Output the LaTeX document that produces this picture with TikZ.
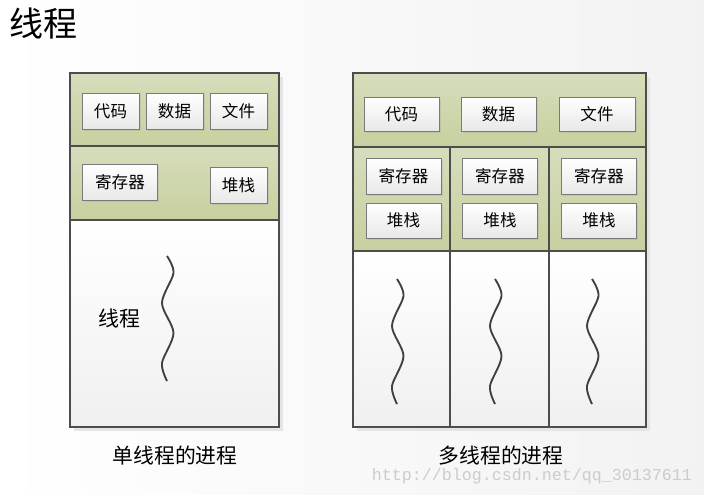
\documentclass[tikz,border=0pt]{standalone}
\usepackage{fontspec}
\setmonofont{Liberation Mono}
\newfontfamily\cjk{Noto Sans CJK SC}
\usetikzlibrary{shadows}
\definecolor{bandtop}{HTML}{D6DDBC}
\definecolor{bandbot}{HTML}{C7D09F}
\definecolor{framec}{HTML}{4D4D4D}
\definecolor{itemc}{HTML}{7A7A7A}

\begin{document}
\begin{tikzpicture}[x=0.75pt,y=-0.75pt,
    band/.style={draw=framec, line width=0.9pt, top color=bandtop, bottom color=bandbot},
    blank/.style={draw=framec, line width=0.9pt, top color=white, bottom color=black!6},
    item/.style={draw=itemc, line width=0.7pt, top color=white, bottom color=black!9,
      inner sep=0pt, font=\cjk\fontsize{12.4}{14}\selectfont,
      drop shadow={opacity=0.18, shadow xshift=1.2pt, shadow yshift=-1.2pt}},
    wave/.style={draw=black!75, line width=1.4pt}]
    % background
    \fill[left color=white, right color=black!5] (0,0) rectangle (704,494);
    \useasboundingbox (0,0) rectangle (704,494);
    \node (title) at (44,24) {\cjk\fontsize{25.5}{28}\selectfont 线程};

    % single threaded process
    \fill[black!10] (74,77) rectangle (283,431);
    \draw[band] (70,73) rectangle (279,146);
    \draw[band] (70,146) rectangle (279,220);
    \draw[blank] (70,220) rectangle (279,427);
    \node[item, minimum width=57*0.75pt, minimum height=36*0.75pt] (lcode) at (110.5,111) {代码};
    \node[item, minimum width=57*0.75pt, minimum height=36*0.75pt] (ldata) at (174.5,111) {数据};
    \node[item, minimum width=57*0.75pt, minimum height=36*0.75pt] (lfile) at (238.5,111) {文件};
    \node[item, minimum width=75*0.75pt, minimum height=36*0.75pt] (lreg) at (120,182) {寄存器};
    \node[item, minimum width=57*0.75pt, minimum height=36*0.75pt] (lstack) at (238.5,185) {堆栈};
    \node (lthread) at (119,318) {\cjk\fontsize{15.7}{18}\selectfont 线程};
    \node[inner sep=0pt] (lcap) at (175,456) {\cjk\fontsize{15.6}{18}\selectfont 单线程的进程};

    % multi threaded process
    \fill[black!10] (357,77) rectangle (650,431);
    \draw[band] (353,73) rectangle (646,147);
    \foreach \a/\b in {353/450, 450/549, 549/646} {
        \draw[band] (\a,147) rectangle (\b,251);
        \draw[blank] (\a,251) rectangle (\b,427);
    }
    \node[item, minimum width=75*0.75pt, minimum height=34*0.75pt] (rcode) at (401.5,114) {代码};
    \node[item, minimum width=75*0.75pt, minimum height=34*0.75pt] (rdata) at (498.5,114) {数据};
    \node[item, minimum width=76*0.75pt, minimum height=34*0.75pt] (rfile) at (597,114) {文件};
    \foreach \x/\i in {403.5/1, 500/2, 599/3} {
        \node[item, minimum width=75*0.75pt, minimum height=36*0.75pt] (rreg\i) at (\x,176) {寄存器};
        \node[item, minimum width=75*0.75pt, minimum height=35*0.75pt] (rstack\i) at (\x,220.5) {堆栈};
    }
    \node[inner sep=0pt] (rcap) at (501,456) {\cjk\fontsize{15.6}{18}\selectfont 多线程的进程};

    % threads
    \foreach \x/\y in {167/256, 397/279, 495/279, 592/279}
        \draw[wave, shift={(\x,\y)}] plot[smooth] coordinates {(0,0) (6.5,17) (-5,47) (6.5,77) (-5,107) (0,125)};

    \node[inner sep=0pt, text=black!20, font=\ttfamily\fontsize{12.5}{14}\selectfont] (mark) at (532,476) {http://blog.csdn.net/qq\_30137611};
\end{tikzpicture}
\end{document}
